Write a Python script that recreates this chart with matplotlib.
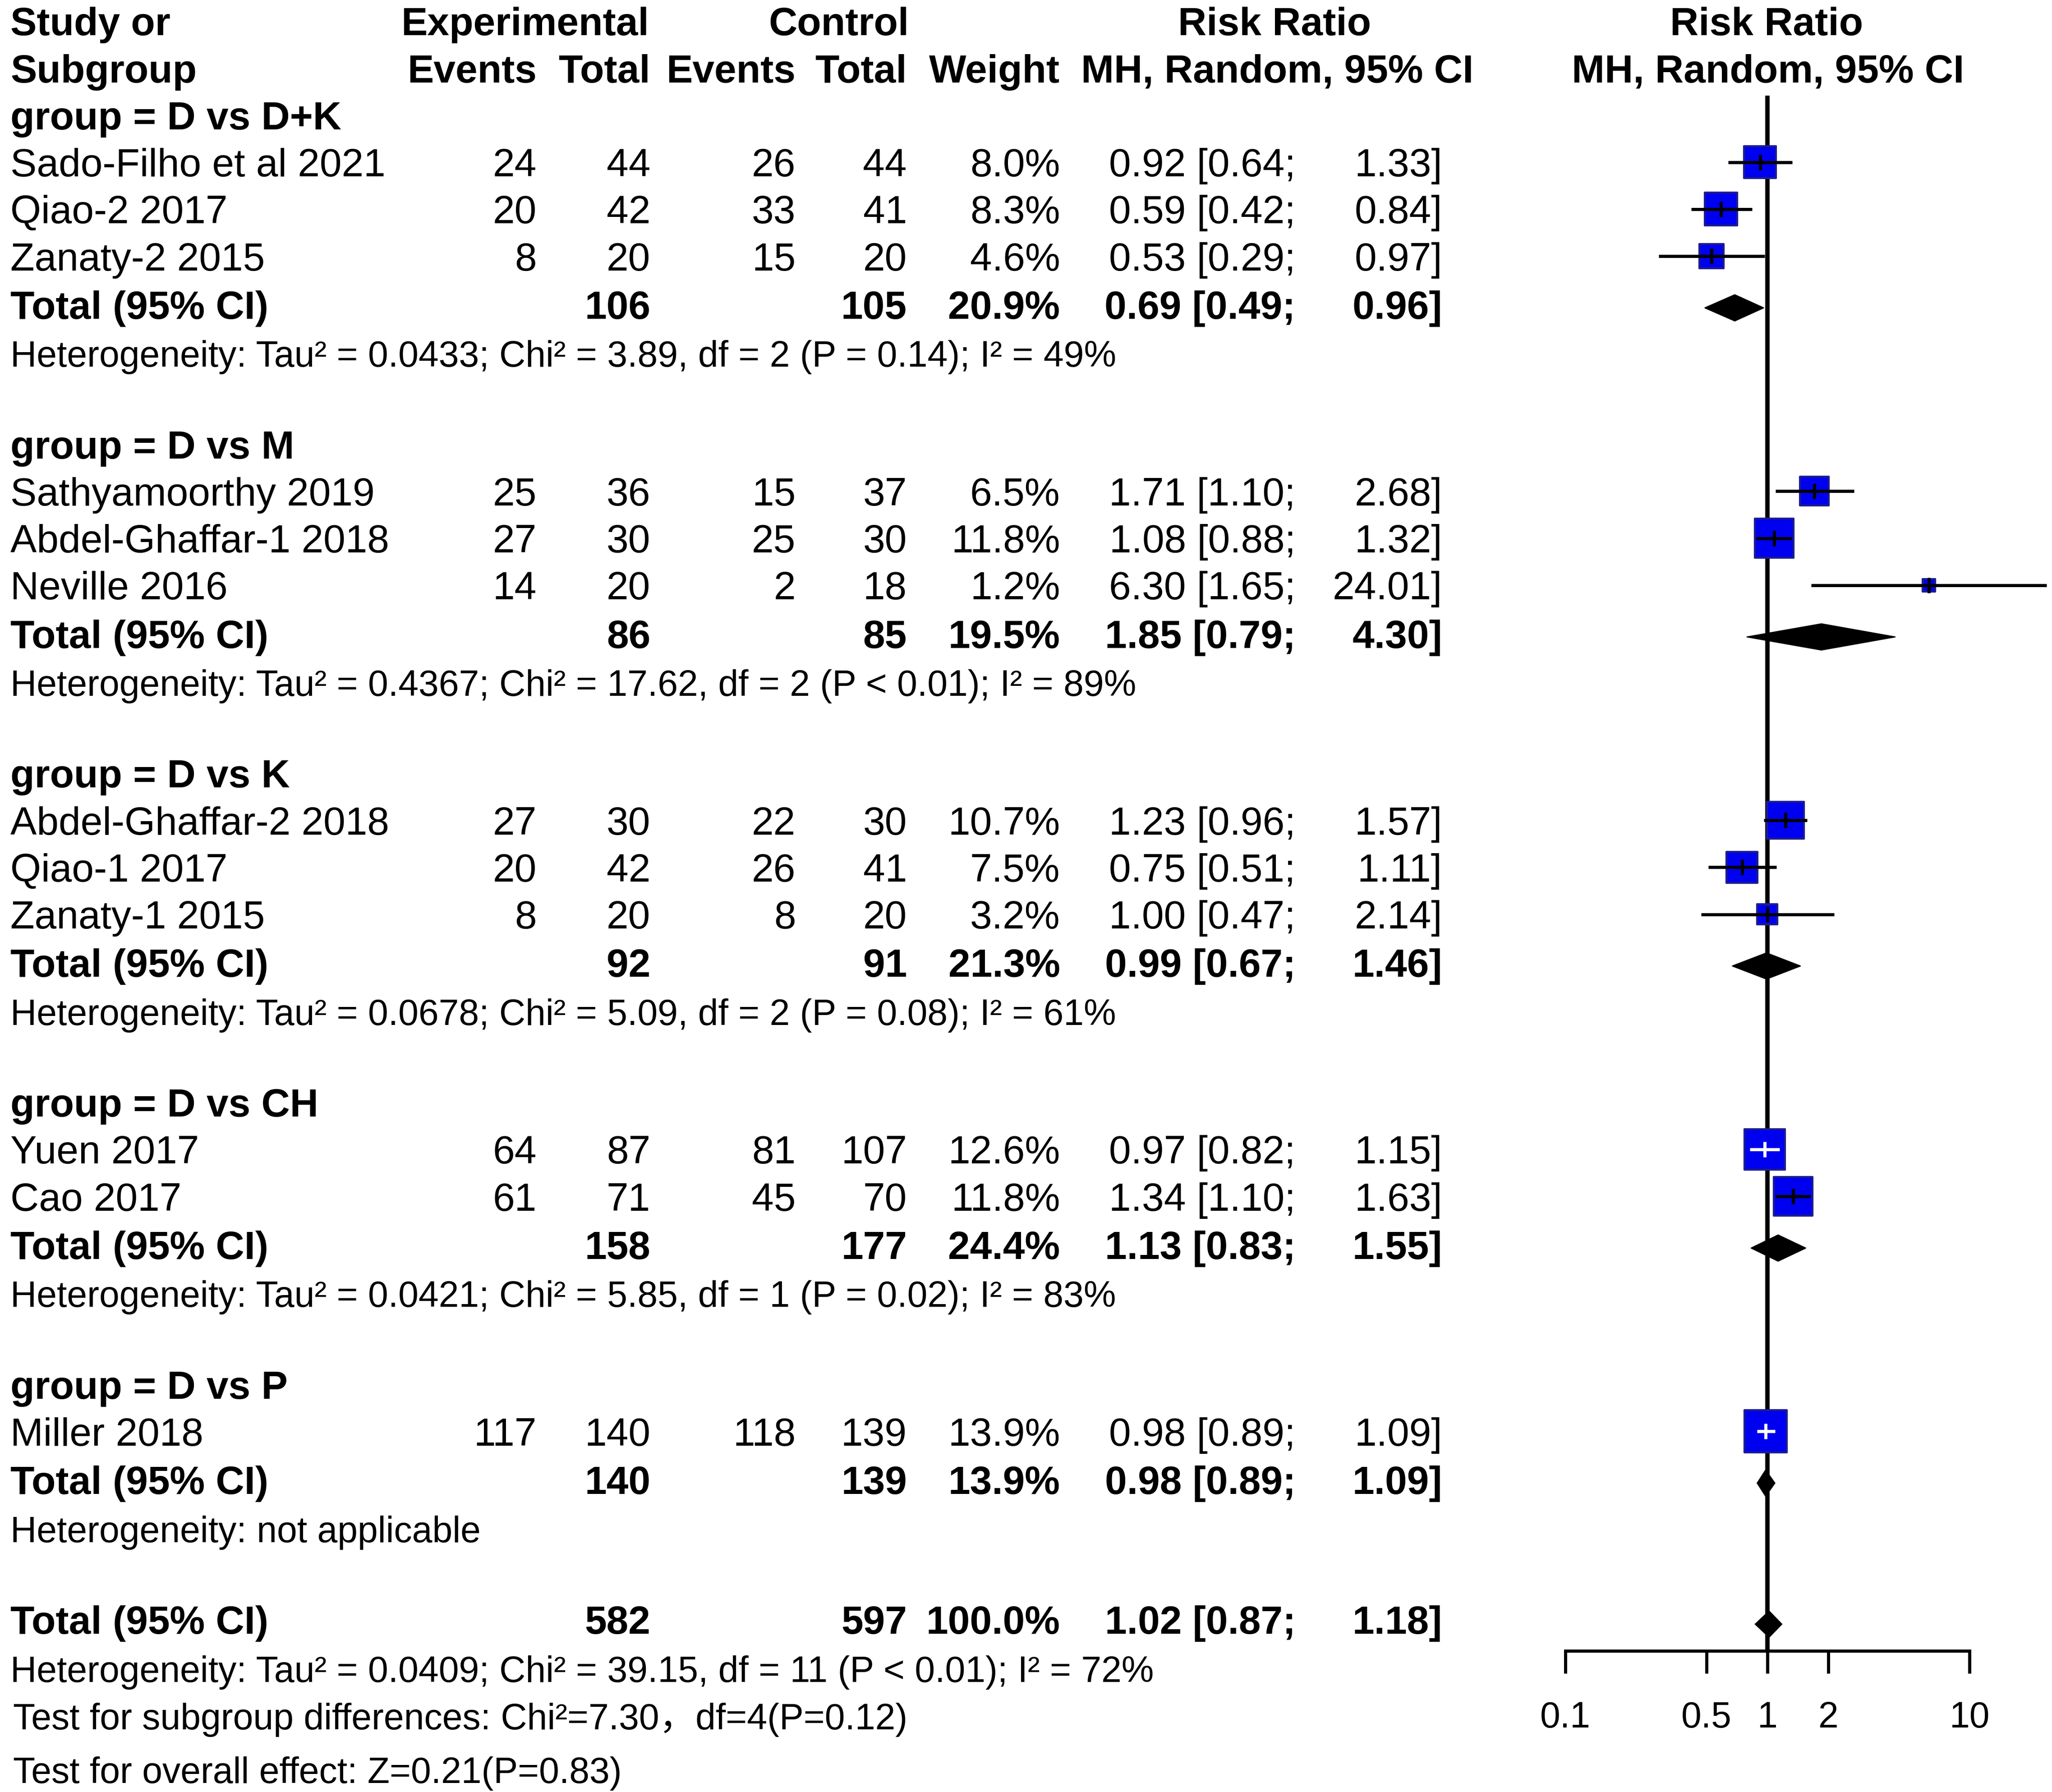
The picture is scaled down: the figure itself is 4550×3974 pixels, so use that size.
import numpy as np
import matplotlib.pyplot as plt
from matplotlib.patches import Polygon

plt.rcParams['font.family'] = ['Liberation Sans', 'Noto Sans CJK SC', 'DejaVu Sans']

# -------------------------------
# Data
# -------------------------------
group_names = ["D vs D+K", "D vs M", "D vs K", "D vs CH", "D vs P"]

studies = ["Sado-Filho et al 2021", "Qiao-2 2017", "Zanaty-2 2015",
           "Sathyamoorthy 2019", "Abdel-Ghaffar-1 2018", "Neville 2016",
           "Abdel-Ghaffar-2 2018", "Qiao-1 2017", "Zanaty-1 2015",
           "Yuen 2017", "Cao 2017",
           "Miller 2018"]
study_group = [0, 0, 0, 1, 1, 1, 2, 2, 2, 3, 3, 4]
exp_events = [24, 20, 8, 25, 27, 14, 27, 20, 8, 64, 61, 117]
exp_total = [44, 42, 20, 36, 30, 20, 30, 42, 20, 87, 71, 140]
ctl_events = [26, 33, 15, 15, 25, 2, 22, 26, 8, 81, 45, 118]
ctl_total = [44, 41, 20, 37, 30, 18, 30, 41, 20, 107, 70, 139]
weights = [8.0, 8.3, 4.6, 6.5, 11.8, 1.2, 10.7, 7.5, 3.2, 12.6, 11.8, 13.9]
rr = [0.92, 0.59, 0.53, 1.71, 1.08, 6.30, 1.23, 0.75, 1.00, 0.97, 1.34, 0.98]
rr_lo = [0.64, 0.42, 0.29, 1.10, 0.88, 1.65, 0.96, 0.51, 0.47, 0.82, 1.10, 0.89]
rr_hi = [1.33, 0.84, 0.97, 2.68, 1.32, 24.01, 1.57, 1.11, 2.14, 1.15, 1.63, 1.09]

sub_exp_total = [106, 86, 92, 158, 140]
sub_ctl_total = [105, 85, 91, 177, 139]
sub_weight = [20.9, 19.5, 21.3, 24.4, 13.9]
sub_rr = [0.69, 1.85, 0.99, 1.13, 0.98]
sub_lo = [0.49, 0.79, 0.67, 0.83, 0.89]
sub_hi = [0.96, 4.30, 1.46, 1.55, 1.09]
sub_het = [
    "Heterogeneity: Tau² = 0.0433; Chi² = 3.89, df = 2 (P = 0.14); I² = 49%",
    "Heterogeneity: Tau² = 0.4367; Chi² = 17.62, df = 2 (P < 0.01); I² = 89%",
    "Heterogeneity: Tau² = 0.0678; Chi² = 5.09, df = 2 (P = 0.08); I² = 61%",
    "Heterogeneity: Tau² = 0.0421; Chi² = 5.85, df = 1 (P = 0.02); I² = 83%",
    "Heterogeneity: not applicable",
]

all_exp_total = 582
all_ctl_total = 597
all_weight = 100.0
all_rr = 1.02
all_lo = 0.87
all_hi = 1.18
all_het = "Heterogeneity: Tau² = 0.0409; Chi² = 39.15, df = 11 (P < 0.01); I² = 72%"
subgroup_test = "Test for subgroup differences: Chi²=7.30，df=4(P=0.12)"
overall_test = "Test for overall effect: Z=0.21(P=0.83)"

tick_vals = [0.1, 0.5, 1, 2, 10]
tick_labels = ["0.1", "0.5", "1", "2", "10"]

# -------------------------------
# Layout helpers (reference view is 1568 x 1370)
# -------------------------------
W, H = 1568, 1370
ROW0, ROWH = 88, 35.94


def fx(x):
    return x / W


def fy(r):
    return 1 - (ROW0 + (r - 2) * ROWH) / H


FS = 63
FS_SMALL = 58

fig = plt.figure(figsize=(45.5, 39.74), dpi=100)


def txt(x, r, s, ha="left", bold=False, size=FS):
    fig.text(fx(x), fy(r), s, ha=ha, va="center_baseline", fontsize=size,
             fontweight="bold" if bold else "normal")


# header
txt(8, 0, "Study or", bold=True)
txt(8, 1, "Subgroup", bold=True)
txt(401, 0, "Experimental", ha="center", bold=True)
txt(641, 0, "Control", ha="center", bold=True)
txt(974, 0, "Risk Ratio", ha="center", bold=True)
txt(1350, 0, "Risk Ratio", ha="center", bold=True)
txt(410, 1, "Events", ha="right", bold=True)
txt(497, 1, "Total", ha="right", bold=True)
txt(608, 1, "Events", ha="right", bold=True)
txt(693, 1, "Total", ha="right", bold=True)
txt(810, 1, "Weight", ha="right", bold=True)
txt(1126, 1, "MH, Random, 95% CI", ha="right", bold=True)
txt(1351, 1, "MH, Random, 95% CI", ha="center", bold=True)


def row_numbers(r, e_ev, e_tot, c_ev, c_tot, w, est, lo, hi, bold=False):
    if e_ev is not None:
        txt(410, r, str(e_ev), ha="right", bold=bold)
        txt(608, r, str(c_ev), ha="right", bold=bold)
    txt(497, r, str(e_tot), ha="right", bold=bold)
    txt(693, r, str(c_tot), ha="right", bold=bold)
    txt(810, r, f"{w:.1f}%", ha="right", bold=bold)
    txt(990, r, f"{est:.2f} [{lo:.2f};", ha="right", bold=bold)
    txt(1102, r, f"{hi:.2f}]", ha="right", bold=bold)


# assign rows
study_rows = []
total_rows = []
r = 2
for g, name in enumerate(group_names):
    txt(8, r, f"group = {name}", bold=True)
    r += 1
    for i in range(len(studies)):
        if study_group[i] == g:
            txt(8, r, studies[i])
            row_numbers(r, exp_events[i], exp_total[i], ctl_events[i], ctl_total[i],
                        weights[i], rr[i], rr_lo[i], rr_hi[i])
            study_rows.append(r)
            r += 1
    txt(8, r + 0.03, "Total (95% CI)", bold=True)
    row_numbers(r + 0.03, None, sub_exp_total[g], None, sub_ctl_total[g], sub_weight[g],
                sub_rr[g], sub_lo[g], sub_hi[g], bold=True)
    total_rows.append(r)
    r += 1
    txt(8, r + 0.07, sub_het[g], size=FS_SMALL)
    r += 2

overall_row = r
txt(8, r, "Total (95% CI)", bold=True)
row_numbers(r, None, all_exp_total, None, all_ctl_total, all_weight,
            all_rr, all_lo, all_hi, bold=True)
txt(8, r + 1.05, all_het, size=FS_SMALL)
txt(10, r + 2.05, subgroup_test, size=FS_SMALL)
txt(10, r + 3.2, overall_test, size=FS_SMALL)

# -------------------------------
# Forest panel
# -------------------------------
x_left, x_01, x_10 = 1170, 1196, 1505
dec = (x_10 - x_01) / 2
ax = fig.add_axes([fx(x_left), 0, 1 - fx(x_left), 1])
ax.set_xscale("log")
ax.set_xlim(10 ** (-1 - (x_01 - x_left) / dec), 10 ** (1 + (W - x_10) / dec))
ax.set_ylim(2 + (H - ROW0) / ROWH, 2 - ROW0 / ROWH)
ax.patch.set_visible(False)

axis_row = 2 + (1262 - ROW0) / ROWH
top_row = 2 + (73 - ROW0) / ROWH

# line of no effect
ax.vlines(1, top_row, axis_row, color="black", lw=7, zorder=1)

# study squares
sizes = [330 * w for w in weights]
ax.scatter(rr, study_rows, s=sizes, marker="s", facecolor="#0000F0",
           edgecolor="#1E1E8C", linewidths=3, zorder=2)

# confidence intervals (white when fully inside the square)
to_px = ax.transData.transform
for i in range(len(studies)):
    y = study_rows[i]
    xe = to_px((rr[i], y))[0]
    span = max(to_px((rr_hi[i], y))[0] - xe, xe - to_px((rr_lo[i], y))[0])
    half = np.sqrt(sizes[i]) / 2 / 72 * fig.dpi
    col = "white" if span < 0.85 * half else "black"
    ax.hlines(y, rr_lo[i], rr_hi[i], color=col, lw=5, zorder=3)
    ax.plot(rr[i], y, marker="|", markersize=24, mew=5, color=col, zorder=4)

# diamonds
dh = 0.28
for est, lo, hi, y in zip(sub_rr + [all_rr], sub_lo + [all_lo], sub_hi + [all_hi],
                          total_rows + [overall_row]):
    ax.add_patch(Polygon([(lo, y + 0.1), (est, y + 0.1 - dh), (hi, y + 0.1),
                          (est, y + 0.1 + dh)],
                         closed=True, facecolor="black", edgecolor="black",
                         lw=1.5, zorder=3))

for s in ["top", "left", "right"]:
    ax.spines[s].set_visible(False)
ax.spines["bottom"].set_position(("data", axis_row))
ax.spines["bottom"].set_bounds(0.1, 10)
ax.spines["bottom"].set_linewidth(5)
ax.set_xticks(tick_vals)
ax.set_xticklabels(tick_labels)
ax.xaxis.set_minor_locator(plt.NullLocator())
ax.tick_params(axis="x", length=36, width=5, pad=44, labelsize=FS_SMALL)
ax.set_yticks([])

fig.savefig("out.png", dpi=100)
plt.close(fig)
